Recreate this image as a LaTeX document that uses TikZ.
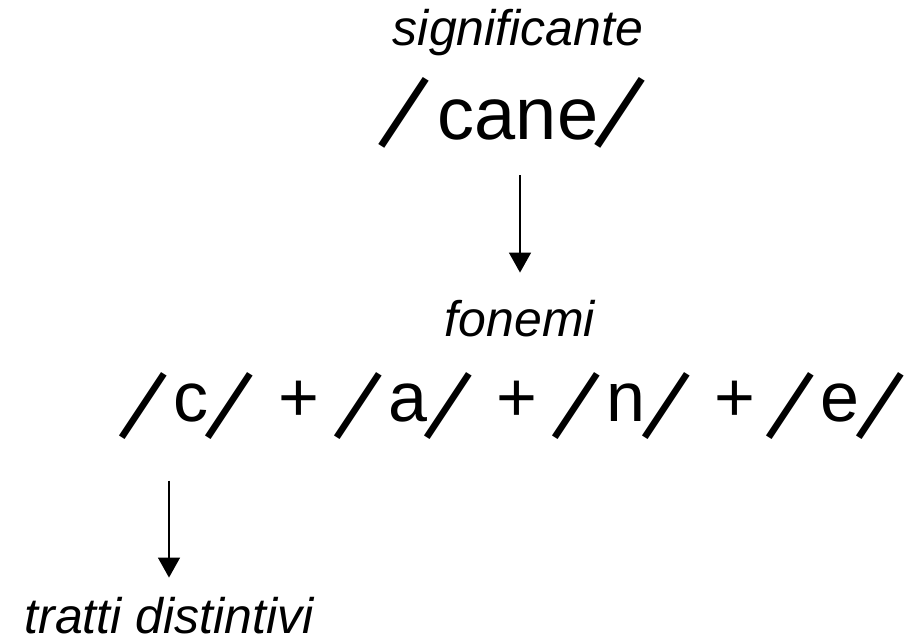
\documentclass[tikz,border=0pt]{standalone}
\usepackage{fontspec}
\setmainfont{Liberation Sans}
\newfontfamily\slfont{Fira Sans}
\usepackage{graphicx}
\usetikzlibrary{arrows.meta, positioning}
\newcommand{\slsh}[1][0pt]{\raisebox{#1}{\makebox[0.58em]{\scalebox{1.18}{\rotatebox[origin=c]{-19}{\slfont /}}}}}

\begin{document}
\begin{tikzpicture}[x=1pt, y=1pt,
  tag/.style={font=\fontsize{50}{60}\selectfont\itshape, inner sep=0pt, anchor=base},
  word/.style={font=\fontsize{74}{88}\selectfont, inner sep=0pt, anchor=base},
  phon/.style={font=\fontsize{70}{84}\selectfont, inner sep=0pt, anchor=base},
  arr/.style={-{Triangle[width=22pt,length=20pt]}, line width=1.5pt}]
\useasboundingbox (0,0) rectangle (909,644);
\node [tag] (sig) at (518,598) {significante};
\node [word] (cane) at (512,504) {\slsh[-4pt]\kern12pt cane\slsh[-4pt]};
\node [tag] (fon) at (520,307) {fonemi};
\foreach \p/\x in {c/186,a/403,n/621,e/835}
  \node [phon] (\p) at (\x,222) {\slsh[-13pt]\kern10pt \p\slsh[-13pt]};
\foreach \i/\x in {1/299,2/517,3/735}
  \node [phon] (plus\i) at (\x,222) {+};
\node [tag] (tratti) at (169,10) {tratti distintivi};
\draw [arr, shorten <=17pt, shorten >=28pt] (fon.north |- cane.south) -- (fon.north);
\draw [arr, shorten <=32pt, shorten >=20pt] (tratti.north |- c.south) -- (tratti.north);
\end{tikzpicture}
\end{document}
